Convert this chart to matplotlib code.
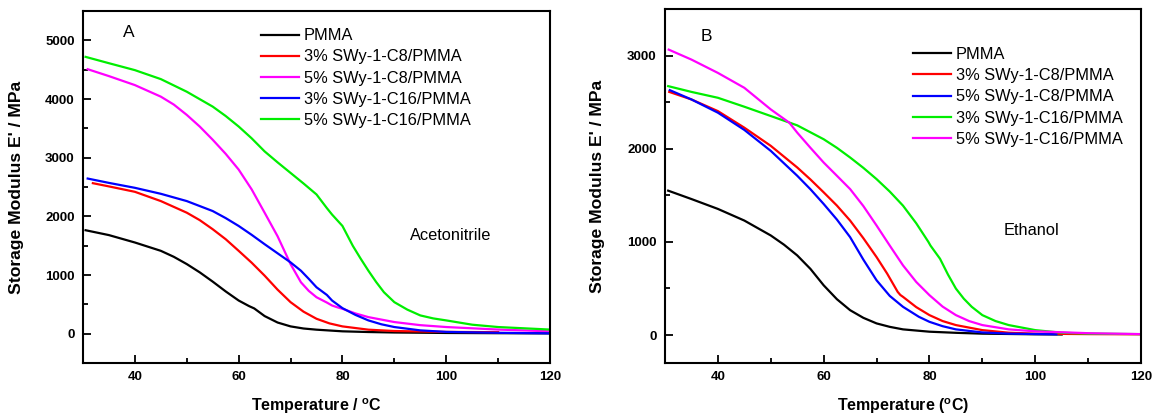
import numpy as np
from matplotlib import pyplot as plt
from matplotlib.ticker import MultipleLocator

plt.rcParams['font.family'] = ['Liberation Sans', 'DejaVu Sans']
plt.rcParams['mathtext.default'] = 'regular'

# ---- panel A (acetonitrile) : temperature (C) / storage modulus (MPa)
A_labels = ['PMMA', '3% SWy-1-C8/PMMA', '5% SWy-1-C8/PMMA',
            '3% SWy-1-C16/PMMA', '5% SWy-1-C16/PMMA']
A_colors = ['#000000', '#ff0000', '#ff00ff', '#0000ff', '#00ee00']

A_pmma_T = [30.5, 35, 40, 45, 47.5, 50, 52.5, 55, 57.5, 60, 62, 63, 65, 67.5, 70, 72.5, 75, 80, 85, 90, 100, 110, 120]
A_pmma_E = [1763, 1680, 1554, 1412, 1310, 1186, 1045, 887, 720, 565, 470, 430, 300, 190, 124, 88, 68, 40, 28, 20, 12, 8, 5]

A_c8_3_T = [31.9, 35, 40, 45, 50, 52.5, 55, 57.5, 60, 62.5, 65, 67.5, 70, 72.5, 75, 77.5, 80, 85, 90, 100, 110]
A_c8_3_E = [2565, 2510, 2418, 2260, 2062, 1935, 1780, 1610, 1412, 1210, 989, 750, 537, 375, 254, 175, 124, 68, 45, 30, 25]

A_c8_5_T = [30.9, 35, 40, 45, 47.5, 50, 52.5, 55, 57.5, 60, 62.5, 65, 67.5, 70, 72, 73.5, 75, 77, 78, 79, 80, 82.5, 85, 90, 95, 100, 110, 120]
A_c8_5_E = [4508, 4390, 4237, 4040, 3905, 3729, 3530, 3305, 3065, 2797, 2460, 2062, 1660, 1186, 876, 730, 621, 530, 480, 450, 424, 345, 282, 198, 145, 113, 70, 40]

A_c16_3_T = [30.9, 35, 40, 45, 50, 55, 57.5, 60, 62.5, 65, 67.5, 70, 72, 73.5, 75, 77, 78, 80, 82.5, 85, 87.5, 90, 95, 100, 110, 120]
A_c16_3_E = [2644, 2570, 2486, 2384, 2260, 2090, 1970, 1836, 1685, 1525, 1370, 1215, 1073, 935, 791, 660, 565, 435, 320, 226, 160, 113, 56, 30, 15, 5]

A_c16_5_T = [30.5, 35, 40, 45, 50, 55, 57.5, 60, 62.5, 65, 67.5, 70, 72.5, 75, 77, 78, 80, 82, 83.5, 85, 86.5, 88, 90, 92.5, 95, 97.5, 100, 105, 110, 120]
A_c16_5_E = [4718, 4610, 4492, 4339, 4124, 3870, 3710, 3531, 3330, 3107, 2920, 2740, 2560, 2373, 2140, 2030, 1836, 1497, 1280, 1073, 880, 706, 537, 410, 311, 260, 226, 153, 113, 70]

# ---- panel B (ethanol)
B_labels = ['PMMA', '3% SWy-1-C8/PMMA', '5% SWy-1-C8/PMMA',
            '3% SWy-1-C16/PMMA', '5% SWy-1-C16/PMMA']
B_colors = ['#000000', '#ff0000', '#0000ff', '#00ee00', '#ff00ff']

B_pmma_T = [30.6, 35, 40, 45, 50, 52.5, 55, 57.5, 60, 62.5, 65, 67.5, 70, 72.5, 75, 80, 85, 90, 100, 105]
B_pmma_E = [1550, 1460, 1354, 1229, 1069, 970, 855, 710, 534, 385, 267, 185, 125, 88, 61, 36, 24, 15, 8, 6]

B_c8_3_T = [30.8, 35, 40, 45, 50, 55, 57.5, 60, 62.5, 65, 67.5, 70, 72, 74, 74.5, 75, 77.5, 80, 82.5, 85, 90, 95, 100, 110, 120]
B_c8_3_E = [2610, 2529, 2404, 2226, 2031, 1799, 1670, 1532, 1390, 1229, 1040, 837, 660, 463, 430, 410, 300, 214, 150, 107, 53, 25, 15, 10, 8]

B_c8_5_T = [30.9, 35, 40, 45, 50, 55, 57.5, 60, 62.5, 65, 67.5, 70, 72.5, 75, 78, 80, 82.5, 85, 90, 95, 104]
B_c8_5_E = [2629, 2529, 2387, 2202, 1977, 1710, 1565, 1407, 1240, 1051, 810, 588, 420, 303, 196, 142, 95, 61, 28, 15, 8]

B_c16_3_T = [30.6, 35, 40, 45, 50, 55, 60, 62.5, 65, 67.5, 70, 72.5, 75, 77.5, 79.8, 80.2, 82, 83.5, 85, 86.5, 88, 90, 92.5, 95, 100, 105, 110, 120]
B_c16_3_E = [2672, 2610, 2547, 2451, 2351, 2251, 2102, 2010, 1906, 1795, 1674, 1540, 1389, 1200, 1000, 960, 819, 650, 499, 390, 303, 214, 150, 107, 53, 25, 15, 10]

B_c16_5_T = [30.7, 35, 40, 45, 50, 53.5, 55, 57.5, 60, 62.5, 65, 67.5, 70, 72.5, 75, 77.5, 80, 82.5, 85, 87.5, 90, 95, 100, 110, 120]
B_c16_5_E = [3064, 2957, 2814, 2654, 2422, 2280, 2173, 2010, 1852, 1710, 1567, 1385, 1176, 960, 748, 570, 428, 305, 214, 150, 107, 61, 40, 20, 10]


def styleAxis(ax, ymax, ymin):
	ax.set_xlim(30, 120)
	ax.set_ylim(ymin, ymax)
	ax.xaxis.set_major_locator(MultipleLocator(20))
	ax.xaxis.set_minor_locator(MultipleLocator(10))
	ax.yaxis.set_major_locator(MultipleLocator(1000))
	ax.yaxis.set_minor_locator(MultipleLocator(500))
	ax.tick_params(which='both', direction='in', width=1.3, top=False, right=False)
	ax.tick_params(which='major', length=6, labelsize=9.5, pad=6)
	ax.tick_params(which='minor', length=3.5)
	for lab in ax.get_xticklabels() + ax.get_yticklabels():
		lab.set_fontweight('bold')
	for sp in ax.spines.values():
		sp.set_linewidth(1.5)
	ax.set_ylabel("Storage Modulus E' / MPa", fontsize=12.6, fontweight='bold')
	ax.yaxis.set_label_coords(-0.126, 0.5)
	ax.xaxis.label.set_va('center')
	ax.xaxis.set_label_coords(0.5, -0.122)


fig = plt.figure(figsize=(11.53, 4.16), dpi=100)
W, H = 1153.0, 416.0
axA = fig.add_axes([83 / W, 1 - 363 / H, 467 / W, 352 / H])
axB = fig.add_axes([665 / W, 1 - 363 / H, 476 / W, 354 / H])

A_series = [(A_pmma_T, A_pmma_E), (A_c8_3_T, A_c8_3_E), (A_c8_5_T, A_c8_5_E),
            (A_c16_3_T, A_c16_3_E), (A_c16_5_T, A_c16_5_E)]
for (t, e), c, lab in zip(A_series, A_colors, A_labels):
	axA.plot(t, e, color=c, lw=1.6, label=lab)
styleAxis(axA, 5500, -500)
axA.set_xlabel(r'Temperature / $^{o}$C', fontsize=11.5, fontweight='bold')
axA.legend(loc='upper left', bbox_to_anchor=(0.381, 0.951), frameon=False, fontsize=11.8,
           handlelength=2.3, handletextpad=0.3, labelspacing=0.38, borderpad=0, borderaxespad=0)
axA.text(0.0985, 0.94, 'A', transform=axA.transAxes, fontsize=12.5, ha='center', va='center')
axA.text(0.788, 0.361, 'Acetonitrile', transform=axA.transAxes, fontsize=11.8, ha='center', va='center')

B_series = [(B_pmma_T, B_pmma_E), (B_c8_3_T, B_c8_3_E), (B_c8_5_T, B_c8_5_E),
            (B_c16_3_T, B_c16_3_E), (B_c16_5_T, B_c16_5_E)]
for (t, e), c, lab in zip(B_series, B_colors, B_labels):
	axB.plot(t, e, color=c, lw=1.6, label=lab)
styleAxis(axB, 3500, -300)
axB.set_xlabel(r'Temperature ($^{o}$C)', fontsize=11.5, fontweight='bold')
axB.legend(loc='upper left', bbox_to_anchor=(0.521, 0.893), frameon=False, fontsize=11.8,
           handlelength=2.3, handletextpad=0.3, labelspacing=0.38, borderpad=0, borderaxespad=0)
axB.text(0.086, 0.921, 'B', transform=axB.transAxes, fontsize=12.5, ha='center', va='center')
axB.text(0.769, 0.373, 'Ethanol', transform=axB.transAxes, fontsize=11.8, ha='center', va='center')

fig.savefig('out.png', dpi=100)
